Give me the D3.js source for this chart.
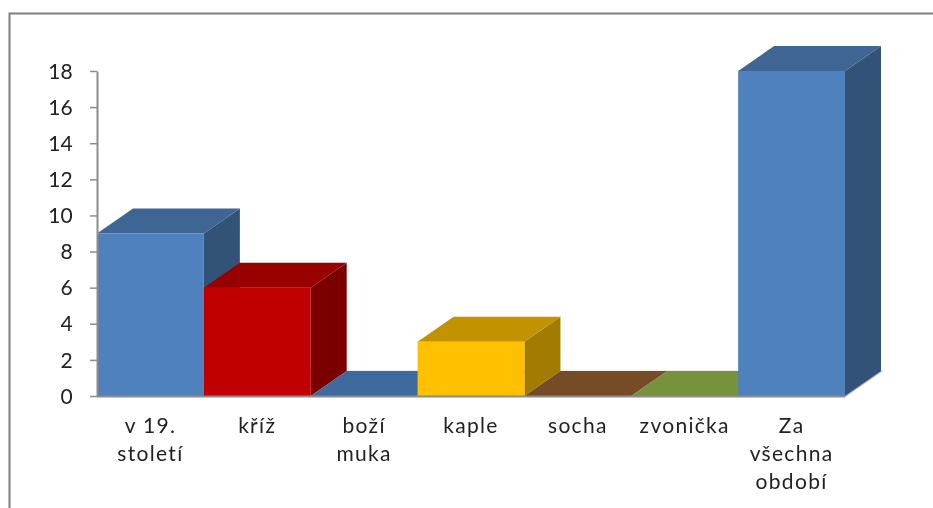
<!DOCTYPE html>
<html><head><meta charset="utf-8">
<script src="https://cdn.jsdelivr.net/npm/d3@7/dist/d3.min.js"></script>
<style>html,body{margin:0;padding:0;background:#fff;overflow:hidden}svg{display:block;filter:blur(0.4px)}</style>
</head><body><div id="c"></div>
<script>
const categories = [["v 19.","století"],["kříž"],["boží","muka"],["kaple"],["socha"],["zvonička"],["Za","všechna","období"]];
const values = [9,6,0,3,0,0,18];
const frontColors = ["#4F81BD","#C00000","#4F81BD","#FFC000","#8F5A2A","#9BBB59","#4F81BD"];
const topColors = ["#3F6594","#990000","#3F6A9E","#C29200","#754C26","#76923C","#3F6594"];
const sideColors = ["#325277","#7A0000","#325277","#A37B00","#5E3D1E","#5F7530","#325277"];
const yTicks = [0,2,4,6,8,10,12,14,16,18];

const W=933,H=508, depthX=36, depthY=25;
const svg=d3.select("#c").append("svg").attr("width",W).attr("height",H);
const font="Lato, 'Open Sans', sans-serif";

// outer frame
svg.append("path").attr("d",`M9.5,${H}V13.5H${W}`).attr("fill","none").attr("stroke","#808080").attr("stroke-width",2);

const x=d3.scaleBand().domain(d3.range(values.length)).range([97,845]).paddingInner(0).paddingOuter(0);
const y=d3.scaleLinear().domain([0,18]).range([396,71]);
const y0=y(0);

// back floor edge and right floor edge
const fl=svg.append("g");
fl.append("path").attr("d",`M${x.range()[0]+depthX},${y0-depthY+.5}H${x.range()[1]+depthX}L${x.range()[1]},${y0+.5}`)
  .attr("fill","none").attr("stroke","#BDBDBD").attr("stroke-width",1.5);

// bars
const g=svg.append("g").selectAll("g").data(values).join("g");
g.append("path").attr("fill",(d,i)=>sideColors[i]).attr("d",(d,i)=>{
  const r=x(i)+x.bandwidth();
  return `M${r},${y(d)}L${r+depthX},${y(d)-depthY}V${y0-depthY}L${r},${y0}Z`;
});
g.append("path").attr("fill",(d,i)=>topColors[i]).attr("d",(d,i)=>{
  const l=x(i),r=l+x.bandwidth();
  return `M${l},${y(d)}L${l+depthX},${y(d)-depthY}H${r+depthX}L${r},${y(d)}Z`;
});
g.append("rect").attr("fill",(d,i)=>frontColors[i])
  .attr("x",(d,i)=>x(i)).attr("width",x.bandwidth()).attr("y",d=>y(d)).attr("height",d=>y0-y(d));

// y axis
const ya=d3.axisLeft(y).tickValues(yTicks).tickSize(7).tickPadding(17).tickSizeOuter(0);
const yg=svg.append("g").attr("transform","translate(97,0)").call(ya);
yg.select(".domain").attr("stroke","#8C8C8C").attr("stroke-width",2);
yg.selectAll(".tick line").attr("stroke","#8C8C8C").attr("stroke-width",1.5);
yg.selectAll("text").attr("font-family",font).attr("font-size",21).attr("fill","#222").attr("dy","0.34em").attr("letter-spacing","0.2");

// x axis line
svg.append("line").attr("x1",97).attr("x2",845).attr("y1",y0+.5).attr("y2",y0+.5).attr("stroke","#8C8C8C").attr("stroke-width",2);

// x labels
svg.append("g").selectAll("text").data(categories).join("text")
  .attr("font-family",font).attr("font-size",21).attr("fill","#222").attr("text-anchor","middle")
  .attr("letter-spacing","1.3")
  .each(function(lines,i){
    d3.select(this).selectAll("tspan").data(lines).join("tspan")
      .attr("x",x(i)+x.bandwidth()/2).attr("y",(l,j)=>433+j*28).text(l=>l);
  });
</script></body></html>
